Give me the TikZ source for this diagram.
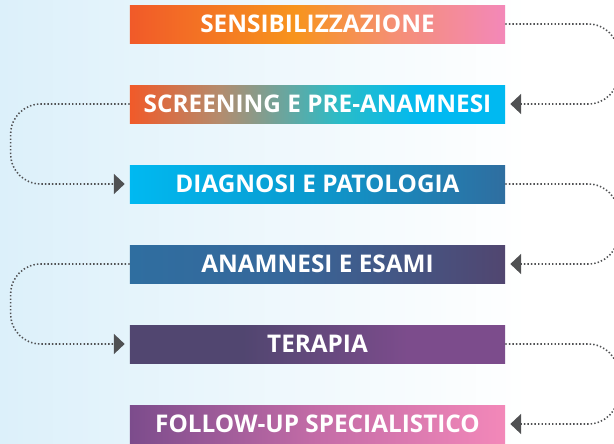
\documentclass[tikz,border=0pt]{standalone}
\usepackage{fontspec}
\setmainfont{Open Sans}
\usetikzlibrary{arrows.meta}

\definecolor{bgblue}{HTML}{DCF0FA}
\definecolor{redorange}{HTML}{F15A29}
\definecolor{orange}{HTML}{F7941D}
\definecolor{salmon}{HTML}{F58F73}
\definecolor{pink}{HTML}{F388B9}
\definecolor{olive}{HTML}{B38C6E}
\definecolor{teal}{HTML}{2ABCC8}
\definecolor{cyan}{HTML}{00B9F1}
\definecolor{midblue}{HTML}{0A9BD0}
\definecolor{steel}{HTML}{2F6EA0}
\definecolor{steeldark}{HTML}{36689B}
\definecolor{plum}{HTML}{514670}
\definecolor{purple}{HTML}{7C4C8C}
\definecolor{orchid}{HTML}{C46CA7}
\definecolor{connector}{HTML}{505153}

% stops between 25bp and 75bp cover the box
\pgfdeclarehorizontalshading{bgshade}{100bp}{color(0bp)=(bgblue); color(25bp)=(bgblue); color(68bp)=(white); color(100bp)=(white)}
\pgfdeclarehorizontalshading{shadeone}{100bp}{color(0bp)=(redorange); color(25bp)=(redorange); color(47bp)=(orange); color(60bp)=(salmon); color(75bp)=(pink); color(100bp)=(pink)}
\pgfdeclarehorizontalshading{shadetwo}{100bp}{color(0bp)=(redorange); color(25bp)=(redorange); color(37bp)=(olive); color(53bp)=(teal); color(64bp)=(cyan); color(75bp)=(cyan); color(100bp)=(cyan)}
\pgfdeclarehorizontalshading{shadethree}{100bp}{color(0bp)=(cyan); color(25bp)=(cyan); color(48bp)=(midblue); color(75bp)=(steel); color(100bp)=(steel)}
\pgfdeclarehorizontalshading{shadefour}{100bp}{color(0bp)=(steel); color(25bp)=(steel); color(45bp)=(steeldark); color(75bp)=(plum); color(100bp)=(plum)}
\pgfdeclarehorizontalshading{shadefive}{100bp}{color(0bp)=(plum); color(25bp)=(plum); color(40bp)=(plum); color(62bp)=(purple); color(75bp)=(purple); color(100bp)=(purple)}
\pgfdeclarehorizontalshading{shadesix}{100bp}{color(0bp)=(purple); color(25bp)=(purple); color(50bp)=(orchid); color(75bp)=(pink); color(100bp)=(pink)}

\begin{document}
\begin{tikzpicture}[x=0.025cm, y=-0.025cm,
    stepbox/.style={shape=rectangle, minimum width=9.375cm, minimum height=0.95cm,
        inner sep=0pt, text=white, text height=12.3pt, text depth=0pt,
        font=\fontsize{17.3}{20}\selectfont\bfseries},
    conn/.style={draw=connector, line width=1.1pt, dash pattern=on 1pt off 1.5pt,
        rounded corners=0.75cm, shorten >=0.125cm,
        -{Triangle[length=0.27cm, width=0.5cm, fill=connector]}}]
    \useasboundingbox (0,0) rectangle (614,443);
    \clip (0,0) rectangle (614,443);
    \shade[shading=bgshade] (0,0) rectangle (614,443);
    % steps
    \node[stepbox, shading=shadeone] at (317.5,24) (S1) {SENSIBILIZZAZIONE};
    \node[stepbox, shading=shadetwo] at (317.5,104) (S2) {SCREENING E PRE-ANAMNESI};
    \node[stepbox, shading=shadethree] at (317.5,184) (S3) {DIAGNOSI E PATOLOGIA};
    \node[stepbox, shading=shadefour] at (317.5,264) (S4) {ANAMNESI E ESAMI};
    \node[stepbox, shading=shadefive] at (317.5,344) (S5) {TERAPIA};
    \node[stepbox, shading=shadesix] at (317.5,424) (S6) {FOLLOW-UP SPECIALISTICO};
    % loops
    \draw [conn] (S1.east) -- ++(113,0) |- (S2.east);
    \draw [conn] (S2.west) -- ++(-119,0) |- (S3.west);
    \draw [conn] (S3.east) -- ++(113,0) |- (S4.east);
    \draw [conn] (S4.west) -- ++(-119,0) |- (S5.west);
    \draw [conn] (S5.east) -- ++(113,0) |- (S6.east);
\end{tikzpicture}
\end{document}
